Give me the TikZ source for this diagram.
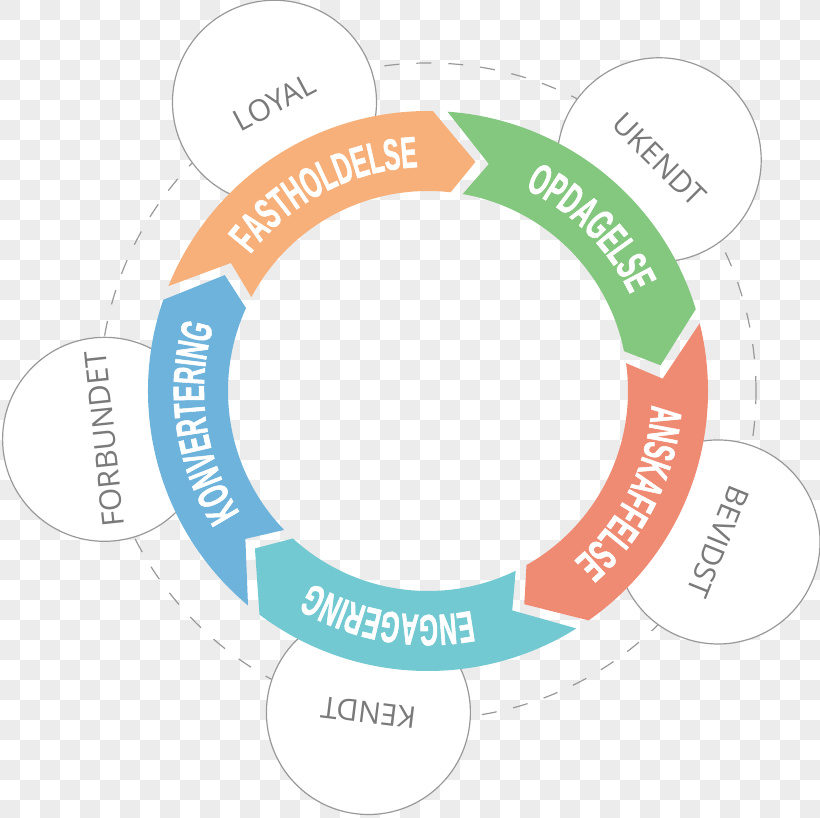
\documentclass[tikz,border=0pt]{standalone}
\usepackage{fontspec}
\setmainfont{Open Sans}
\newfontfamily\arcfont[FakeStretch=0.55,FakeBold=1.2]{Liberation Sans}
\usetikzlibrary{decorations.text}
\definecolor{cOrange}{HTML}{F8B07B}
\definecolor{cGreen}{HTML}{84C77F}
\definecolor{cSalmon}{HTML}{F08B73}
\definecolor{cTeal}{HTML}{72C9D1}
\definecolor{cBlue}{HTML}{6DB3DB}
\definecolor{checkgrey}{HTML}{ECECEC}
\definecolor{lineGrey}{HTML}{999999}
\definecolor{textGrey}{HTML}{7A7A7A}
\tikzset{
  stage/.style={circle, draw=lineGrey, line width=1.2pt, fill=white, minimum size=204pt, inner sep=0pt, text=textGrey, font=\fontsize{30}{30}\selectfont},
  dashring/.style={draw=lineGrey, line width=1.2pt, dash pattern=on 15pt off 17pt},
}
% #1 tail junction angle, #2 colour
\newcommand\ringseg[2]{%
  \fill[#2] ({#1+11}:280) arc[start angle={#1+11}, end angle={#1-58}, radius=280]
    -- ({#1-68.7}:234) -- ({#1-63.5}:200)
    arc[start angle={#1-63.5}, end angle={#1+5}, radius=200]
    -- ({#1}:235) -- cycle;}
% #1 centre angle, #2 text
\newcommand\arctext[2]{%
  \path[decorate, decoration={text along path, text align=center, text color=white,
    text={|\arcfont\bfseries\fontsize{44}{44}\selectfont|#2}}]
    ({#1+45}:224) arc[start angle={#1+45}, end angle={#1-45}, radius=224];}
\begin{document}
\begin{tikzpicture}[x=1pt,y=1pt]
\useasboundingbox (-428,-427) rectangle (392,391);
\fill[white] (-428,-427) rectangle (392,391);
\foreach \i in {0,...,40}{\foreach \j in {0,...,40}{%
  \ifodd\numexpr\i+\j\relax\else
    \fill[checkgrey] ({20*\i-428},{371-20*\j}) rectangle +(20,20);
  \fi}}
\coordinate (c) at (0,0);
\draw[dashring] (c) circle[radius=328];
\node[stage, rotate=28] (loyal) at (118:327) {LOYAL};
\node[stage, rotate=-45] (ukendt) at (45:327) {UKENDT};
\node[stage, rotate=-112] (bevidst) at (-27.5:327) {BEVIDST};
\node[stage, rotate=173] (kendt) at (-100.5:327) {KENDT};
\node[stage, rotate=96] (forbundet) at (188.5:327) {FORBUNDET};
\ringseg{147}{cOrange}
\ringseg{75}{cGreen}
\ringseg{3}{cSalmon}
\ringseg{-69}{cTeal}
\ringseg{-141}{cBlue}
\arctext{117.5}{FASTHOLDELSE}
\arctext{45}{OPDAGELSE}
\arctext{-26.5}{ANSKAFFELSE}
\arctext{-100}{ENGAGERING}
\arctext{188}{KONVERTERING}
\end{tikzpicture}
\end{document}
